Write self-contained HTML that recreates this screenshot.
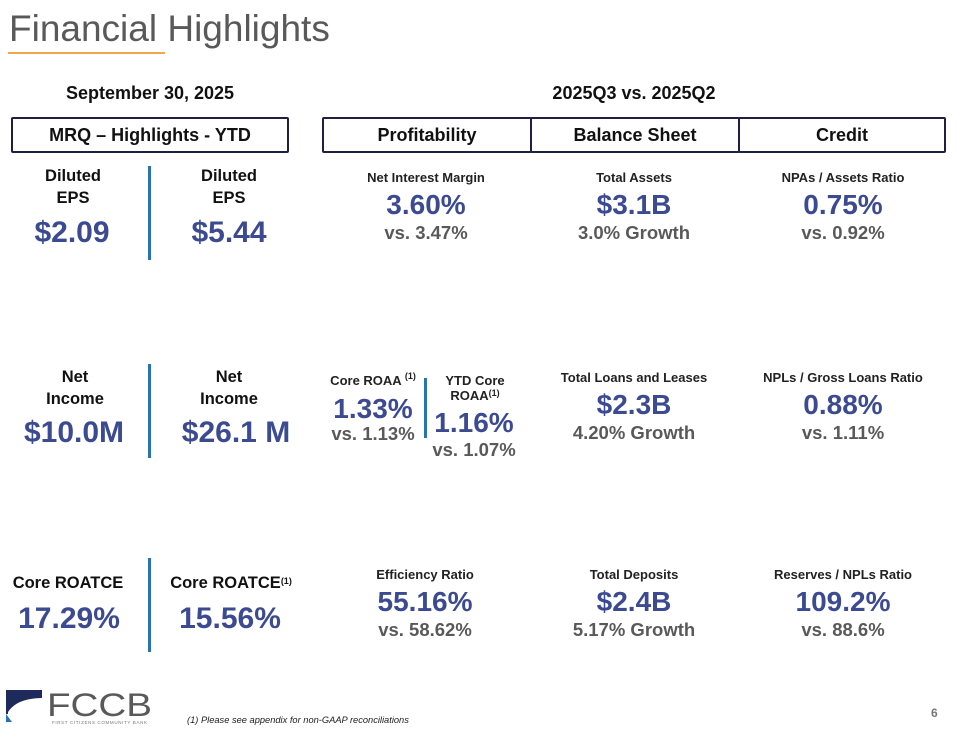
<!DOCTYPE html>
<html><head><meta charset="utf-8"><style>
body{margin:0;width:960px;height:730px;background:#fff;position:relative;overflow:hidden;font-family:"Liberation Sans",Arial,sans-serif}
.t{position:absolute;transform:translateX(-50%);white-space:nowrap;text-align:center;font-weight:bold;line-height:1}
.lbl{color:#111;font-size:16.5px;line-height:22px}
.big{color:#3b4a91;font-size:28px}
.bigL{color:#3b4a91;font-size:30px}
.sl{color:#222;font-size:13px}
.vs{color:#595959;font-size:18.5px}
.box{position:absolute;border:2px solid #1f2041;border-radius:2px;box-sizing:border-box;font-weight:bold;font-size:18px;color:#111;display:flex;align-items:center;justify-content:center}
.div{position:absolute;width:3px;background:#2874b0}
sup{font-size:9px;vertical-align:top;position:relative;top:-2px}
</style></head><body>
<div style="position:absolute;left:9px;top:8px;font-size:37px;color:#595959">Financial Highlights</div>
<div style="position:absolute;left:8px;top:52px;width:157px;height:2px;background:#f0a64a"></div>
<div class="t" style="left:150px;top:84px;font-size:18px;color:#111">September 30, 2025</div>
<div class="t" style="left:634px;top:84px;font-size:18px;color:#111">2025Q3 vs. 2025Q2</div>
<div class="box" style="left:11px;top:117px;width:278px;height:36px">MRQ – Highlights - YTD</div>
<div class="box" style="left:322px;top:117px;width:210px;height:36px">Profitability</div>
<div class="box" style="left:530px;top:117px;width:210px;height:36px">Balance Sheet</div>
<div class="box" style="left:738px;top:117px;width:208px;height:36px">Credit</div>

<div class="div" style="left:148px;top:166px;height:94px"></div>
<div class="div" style="left:148px;top:364px;height:94px"></div>
<div class="div" style="left:148px;top:558px;height:94px"></div>
<div class="div" style="left:424px;top:378px;height:60px"></div>

<div class="t lbl" style="left:73px;top:165px">Diluted<br>EPS</div>
<div class="t bigL" style="left:72px;top:218px">$2.09</div>
<div class="t lbl" style="left:229px;top:165px">Diluted<br>EPS</div>
<div class="t bigL" style="left:229px;top:218px">$5.44</div>

<div class="t lbl" style="left:75px;top:366px">Net<br>Income</div>
<div class="t bigL" style="left:74px;top:418px">$10.0M</div>
<div class="t lbl" style="left:229px;top:366px">Net<br>Income</div>
<div class="t bigL" style="left:236px;top:418px">$26.1 M</div>

<div class="t lbl" style="left:68px;top:572px">Core ROATCE</div>
<div class="t bigL" style="left:69px;top:604px">17.29%</div>
<div class="t lbl" style="left:231px;top:572px">Core ROATCE<sup>(1)</sup></div>
<div class="t bigL" style="left:230px;top:604px">15.56%</div>

<div class="t sl" style="left:426px;top:171px">Net Interest Margin</div>
<div class="t big" style="left:426px;top:191px">3.60%</div>
<div class="t vs" style="left:426px;top:224px">vs. 3.47%</div>
<div class="t sl" style="left:634px;top:171px">Total Assets</div>
<div class="t big" style="left:634px;top:191px">$3.1B</div>
<div class="t vs" style="left:634px;top:224px">3.0% Growth</div>
<div class="t sl" style="left:843px;top:171px">NPAs / Assets Ratio</div>
<div class="t big" style="left:843px;top:191px">0.75%</div>
<div class="t vs" style="left:843px;top:224px">vs. 0.92%</div>

<div class="t sl" style="left:373px;top:374px">Core ROAA <sup>(1)</sup></div>
<div class="t big" style="left:373px;top:395px">1.33%</div>
<div class="t vs" style="left:373px;top:425px">vs. 1.13%</div>
<div class="t sl" style="left:475px;top:373px;line-height:15px">YTD Core<br>ROAA<sup>(1)</sup></div>
<div class="t big" style="left:474px;top:409px">1.16%</div>
<div class="t vs" style="left:474px;top:441px">vs. 1.07%</div>
<div class="t sl" style="left:634px;top:371px">Total Loans and Leases</div>
<div class="t big" style="left:634px;top:391px">$2.3B</div>
<div class="t vs" style="left:634px;top:424px">4.20% Growth</div>
<div class="t sl" style="left:843px;top:371px">NPLs / Gross Loans Ratio</div>
<div class="t big" style="left:843px;top:391px">0.88%</div>
<div class="t vs" style="left:843px;top:424px">vs. 1.11%</div>

<div class="t sl" style="left:425px;top:568px">Efficiency Ratio</div>
<div class="t big" style="left:425px;top:588px">55.16%</div>
<div class="t vs" style="left:425px;top:621px">vs. 58.62%</div>
<div class="t sl" style="left:634px;top:568px">Total Deposits</div>
<div class="t big" style="left:634px;top:588px">$2.4B</div>
<div class="t vs" style="left:634px;top:621px">5.17% Growth</div>
<div class="t sl" style="left:843px;top:568px">Reserves / NPLs Ratio</div>
<div class="t big" style="left:843px;top:588px">109.2%</div>
<div class="t vs" style="left:843px;top:621px">vs. 88.6%</div>

<svg style="position:absolute;left:6px;top:688px" width="155" height="38" viewBox="0 0 155 38">
<polygon points="0,2 36,2 36,10 12,16 4,26 0,26" fill="#1f2a5c"/>
<path d="M2,24 C10,12 25,10 38,10 L30,16 C20,16 12,20 6,34 L2,34 Z" fill="#fff"/>
<polygon points="0,26 6,34 0,34" fill="#2874b0"/>
<text x="41" y="28" font-family="Liberation Sans,Arial,sans-serif" font-size="32" fill="#595959" textLength="105" lengthAdjust="spacingAndGlyphs">FCCB</text>
<text x="46" y="36" font-family="Liberation Sans,Arial,sans-serif" font-size="4.5" fill="#777" textLength="95">FIRST CITIZENS COMMUNITY BANK</text>
</svg>
<div style="position:absolute;left:187px;top:715px;font-size:9.3px;font-style:italic;color:#222">(1) Please see appendix for non-GAAP reconciliations</div>
<div style="position:absolute;left:931px;top:706px;font-size:12px;font-weight:bold;color:#777">6</div>
</body></html>
